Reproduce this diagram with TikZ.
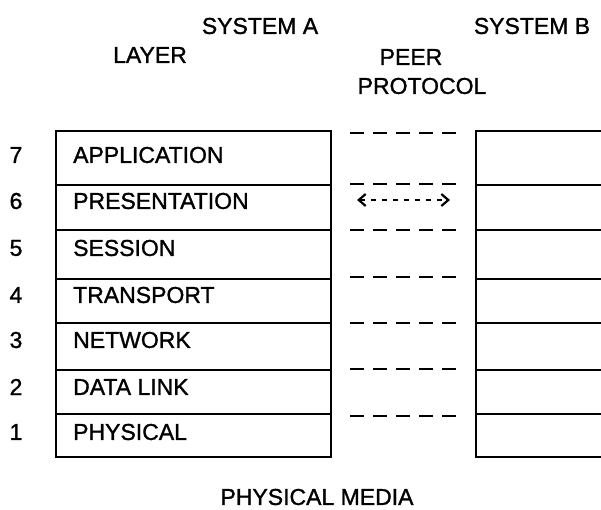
\documentclass[tikz,border=0pt]{standalone}
\usepackage{fontspec}
\setmainfont[FakeBold=1.2]{Liberation Sans}
\usetikzlibrary{arrows.meta}
\begin{document}
\begin{tikzpicture}[x=1pt,y=-1pt,
  txt/.style={font=\fontsize{23}{25}\selectfont, inner sep=0pt},
  lbl/.style={txt, anchor=west},
  cellA/.style={draw, line width=1.5pt, anchor=north west, minimum width=275pt, inner sep=0pt},
  cellB/.style={draw, line width=1.5pt, anchor=north west, minimum width=140pt, inner sep=0pt},
  peer/.style={line width=2.2pt, dash pattern=on 14pt off 9pt},
]
\useasboundingbox (0,0) rectangle (601,509);
% headers
\node[txt] (sysA) at (260,26) {SYSTEM A};
\node[txt] (sysB) at (532,26) {SYSTEM B};
\node[txt] (layer) at (150,55) {LAYER};
\node[txt] (peerL) at (411,57) {PEER};
\node[txt] (proto) at (422,86) {PROTOCOL};
% rows
\foreach \n/\top/\h/\ty/\name in {7/130/54/155/APPLICATION, 6/184/45/201/PRESENTATION, 5/229/49/248/SESSION, 4/278/44/295/TRANSPORT, 3/322/47/340/NETWORK, 2/369/44/387/DATA LINK, 1/413/43/432/PHYSICAL}{
  \node[cellA, minimum height=\h pt] (a\n) at (55,\top) {};
  \node[cellB, minimum height=\h pt] (b\n) at (475,\top) {};
  \node[lbl] (t\n) at (73,\ty) {\name};
  \node[txt] (n\n) at (16,\ty) {\n};
}
% peer protocol dashed lines
\foreach \i/\yy in {1/133, 2/184, 3/230, 4/277, 5/323, 6/369, 7/416}{
  \coordinate (pl\i) at (350,\yy);
  \coordinate (pr\i) at (457,\yy);
  \draw[peer] (pl\i) -- (pr\i);
}
% arrow
\coordinate (arl) at (357,200);
\coordinate (arr) at (450,200);
\draw[line width=1.6pt, dash pattern=on 5pt off 6pt,
  {Straight Barb[length=7pt,width=12pt,line width=2.2pt]}-{Straight Barb[length=7pt,width=12pt,line width=2.2pt]}] (arl) -- (arr);
% physical media
\node[txt] (media) at (317,497) {PHYSICAL MEDIA};
\end{tikzpicture}
\end{document}
